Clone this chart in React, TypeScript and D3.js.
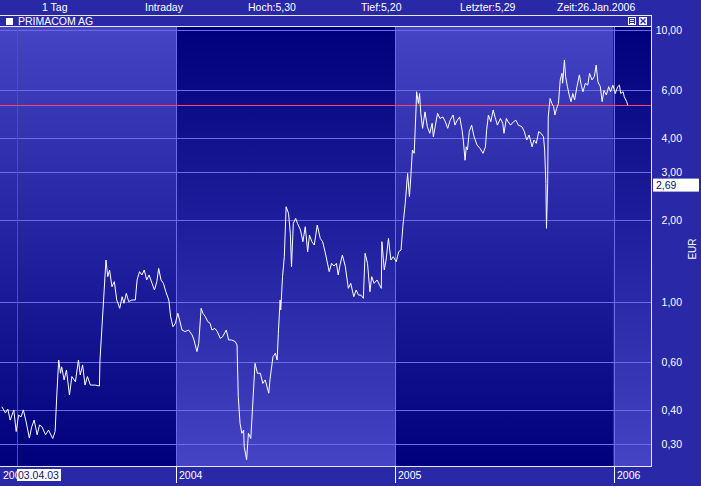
import React from "react";
import * as d3 from "d3";

const headerLabels = ["1 Tag", "Intraday", "Hoch:5,30", "Tief:5,20", "Letzter:5,29", "Zeit:26.Jan.2006"];
const titleText = "PRIMACOM AG";
const yTicks = [0.3, 0.4, 0.6, 1, 2, 3, 4, 6, 10];
const yTickLabels = ["0,30", "0,40", "0,60", "1,00", "2,00", "3,00", "4,00", "6,00", "10,00"];
const yearTicks = ["2004-01-01", "2005-01-01", "2006-01-01"];
const yearLabels = ["2004", "2005", "2006"];
const firstYearLabel = "2003";
const unitLabel = "EUR";
const startDate = "2003-03-15";
const crosshairDay = 27;
const crosshairLabel = "03.04.03";
const lastPrice = 5.29;
const cursorPrice = 2.69;
const cursorLabel = "2,69";

// days since startDate
const dayOffsets = [
  1, 7, 11, 15, 21, 25, 29, 33, 37, 42, 47, 51, 55, 60, 64, 68, 74, 79, 86, 90,
  93, 96, 99, 101, 105, 109, 114, 118, 124, 129, 132, 136, 140, 144, 149, 157, 164, 165, 168, 171,
  175, 178, 181, 185, 189, 193, 198, 202, 205, 209, 213, 218, 224, 227, 231, 235, 239, 243, 247, 252,
  256, 260, 263, 267, 271, 275, 280, 283, 287, 291, 295, 298, 302, 307, 313, 319, 322, 327, 330, 334,
  337, 341, 345, 349, 352, 357, 361, 366, 370, 376, 380, 385, 391, 394, 396, 399, 402, 405, 406, 410,
  413, 417, 420, 424, 428, 433, 437, 441, 447, 449, 454, 458, 461, 463, 466, 467, 470, 473, 476, 480,
  483, 485, 488, 492, 495, 500, 504, 508, 512, 515, 519, 523, 528, 533, 537, 541, 544, 548, 552, 556,
  560, 563, 566, 570, 575, 578, 580, 584, 589, 593, 597, 601, 605, 608, 612, 616, 619, 623, 628, 632,
  635, 636, 640, 643, 647, 651, 655, 660, 664, 668, 671, 675, 679, 682, 684, 687, 690, 693, 694, 697,
  699, 701, 704, 708, 712, 716, 720, 722, 725, 729, 733, 738, 742, 746, 750, 755, 758, 762, 766, 770,
  772, 775, 777, 779, 782, 786, 790, 795, 800, 805, 809, 811, 814, 818, 822, 825, 829, 834, 838, 840,
  844, 847, 851, 856, 860, 864, 870, 874, 878, 882, 887, 890, 894, 898, 902, 906, 908, 910, 911, 913,
  914, 917, 920, 923, 925, 928, 931, 934, 937, 938, 941, 943, 946, 949, 952, 955, 958, 962, 966, 969,
  972, 976, 980, 983, 987, 991, 994, 997, 1001, 1004, 1007, 1011, 1015, 1018, 1022, 1026, 1030, 1033, 1035, 1039,
  1041, 1045, 1047,
];

const prices = [
  0.412, 0.391, 0.404, 0.368, 0.401, 0.334, 0.384, 0.378, 0.401, 0.359, 0.316, 0.348, 0.368, 0.325, 0.353, 0.348, 0.325, 0.338, 0.315, 0.334,
  0.462, 0.612, 0.547, 0.578, 0.517, 0.562, 0.455, 0.532, 0.509, 0.612, 0.539, 0.587, 0.495, 0.532, 0.495, 0.495, 0.491, 0.612, 0.789, 1.017,
  1.427, 1.239, 1.311, 1.138, 1.188, 1.017, 0.948, 1.046, 0.989, 1.076, 1.003, 1.017, 1.017, 1.205, 1.293, 1.257, 1.311, 1.205, 1.257, 1.171,
  1.107, 1.188, 1.329, 1.205, 1.171, 1.091, 1.017, 0.883, 0.811, 0.835, 0.909, 0.859, 0.789, 0.778, 0.789, 0.756, 0.725, 0.657, 0.705, 0.948,
  0.909, 0.883, 0.847, 0.835, 0.789, 0.8, 0.778, 0.735, 0.746, 0.789, 0.725, 0.725, 0.715, 0.695, 0.45, 0.358, 0.329, 0.338, 0.294, 0.263,
  0.329, 0.315, 0.412, 0.595, 0.547, 0.547, 0.502, 0.517, 0.462, 0.517, 0.629, 0.648, 0.612, 0.767, 1.017, 0.935, 1.239, 1.467, 2.24, 2.12,
  1.788, 1.348, 1.946, 2.03, 1.946, 1.839, 1.666, 1.891, 1.53, 1.763, 1.666, 1.62, 1.918, 1.714, 1.666, 1.53, 1.427, 1.293, 1.387, 1.356,
  1.387, 1.257, 1.367, 1.489, 1.348, 1.205, 1.123, 1.171, 1.046, 1.107, 1.06, 1.06, 1.032, 1.51, 1.387, 1.091, 1.239, 1.171, 1.205, 1.155,
  1.123, 1.666, 1.311, 1.427, 1.714, 1.427, 1.467, 1.406, 1.53, 1.553, 1.891, 2.306, 2.97, 2.44, 2.81, 3.62, 3.52, 5.08, 5.93, 5.37,
  5.84, 4.94, 4.35, 5.0, 4.41, 4.17, 4.54, 4.05, 4.41, 4.94, 4.73, 4.79, 4.6, 4.35, 4.66, 4.87, 4.47, 4.66, 4.79, 4.28,
  3.94, 3.32, 3.72, 3.62, 4.23, 4.47, 4.05, 3.78, 3.67, 3.52, 3.72, 4.28, 4.87, 4.6, 5.08, 4.79, 4.47, 4.73, 4.54, 4.17,
  4.73, 4.6, 4.47, 4.6, 4.66, 4.47, 4.41, 4.23, 3.94, 4.11, 3.72, 3.94, 3.83, 4.23, 4.17, 4.05, 3.62, 2.73, 1.866, 2.73,
  4.79, 5.6, 5.37, 5.22, 4.87, 5.15, 5.37, 6.55, 6.93, 6.37, 7.76, 6.74, 6.19, 5.77, 5.45, 5.84, 5.53, 6.19, 6.84, 6.27,
  5.93, 6.37, 6.27, 6.93, 6.55, 6.74, 7.43, 6.45, 6.19, 5.45, 6.0, 5.77, 6.19, 5.93, 6.27, 5.84, 6.19, 6.27, 5.84, 5.93,
  5.68, 5.45, 5.29,
];

const W = 701;
const H = 486;
const FONT = "'Liberation Sans', Arial, sans-serif";

export default function App() {
  const parse = d3.utcParse("%Y-%m-%d");
  const start = parse(startDate) as Date;
  const years = yearTicks.map((s) => parse(s) as Date);

  const plotL = 0;
  const plotR = 652;
  const plotT = 27;
  const plotB = 467;

  const x = d3.scaleUtc().domain([years[0], years[2]]).range([176, 613.5]);
  const y = d3.scaleLog().domain([1, 10]).range([302, 30]);

  const data = dayOffsets.map((d, i) => ({ date: d3.utcDay.offset(start, d), value: prices[i] }));

  const line = d3
    .line<{ date: Date; value: number }>()
    .x((d) => x(d.date))
    .y((d) => y(d.value));

  const bandEdges = [plotL, ...years.map((d) => x(d)), plotR];
  const bands = d3.range(bandEdges.length - 1).map((i) => ({
    x0: bandEdges[i],
    x1: bandEdges[i + 1],
    grad: i % 2 === 0 ? "url(#gDown)" : "url(#gUp)",
  }));

  const crisp = (v: number) => Math.round(v) + 0.5;
  const headerX = [42, 145, 248, 361, 460, 557];
  const crossX = crisp(x(d3.utcDay.offset(start, crosshairDay)));
  const lastY = crisp(y(lastPrice));
  const cursorY = y(cursorPrice);

  return (
    <svg
      width={W}
      height={H}
      viewBox={`0 0 ${W} ${H}`}
      style={{ position: "absolute", left: 0, top: 0, display: "block" }}
      fontFamily={FONT}
    >
      <defs>
        <linearGradient id="gDown" x1="0" y1="0" x2="0" y2="1">
          <stop offset="0" stopColor="#4444c4" />
          <stop offset="1" stopColor="#00007c" />
        </linearGradient>
        <linearGradient id="gUp" x1="0" y1="0" x2="0" y2="1">
          <stop offset="0" stopColor="#00007c" />
          <stop offset="1" stopColor="#4444c4" />
        </linearGradient>
        <clipPath id="plotClip">
          <rect x={plotL} y={plotT} width={plotR - plotL} height={plotB - plotT} />
        </clipPath>
        <clipPath id="firstYearClip">
          <rect x={0} y={468} width={crossX} height={18} />
        </clipPath>
      </defs>

      <rect x={0} y={0} width={W} height={H} fill="#2929a8" />

      {/* header */}
      {headerLabels.map((t, i) => (
        <text key={t} x={headerX[i]} y={11} fill="#ffffff" fontSize={10.5}>
          {t}
        </text>
      ))}

      {/* title bar */}
      <line x1={0} x2={plotR} y1={15.5} y2={15.5} stroke="#e8e8ff" strokeWidth={1} />
      <rect x={6} y={18} width={7} height={7} fill="#ffffff" />
      <text x={18} y={25} fill="#ffffff" fontSize={10.5}>
        {titleText}
      </text>
      <rect x={628.5} y={17.5} width={7} height={7} fill="none" stroke="#ffffff" />
      <line x1={630} x2={634} y1={19.5} y2={19.5} stroke="#ffffff" />
      <line x1={630} x2={634} y1={21.5} y2={21.5} stroke="#ffffff" />
      <line x1={630} x2={634} y1={23.5} y2={23.5} stroke="#ffffff" />
      <rect x={639} y={17} width={8} height={8} fill="#ffffff" />
      <line x1={640.5} x2={645.5} y1={18.5} y2={23.5} stroke="#2a2aaa" strokeWidth={1.4} />
      <line x1={645.5} x2={640.5} y1={18.5} y2={23.5} stroke="#2a2aaa" strokeWidth={1.4} />

      {/* plot background bands */}
      {bands.map((b, i) => (
        <rect key={i} x={b.x0} y={plotT} width={b.x1 - b.x0} height={plotB - plotT} fill={b.grad} />
      ))}

      {/* grid */}
      {yTicks.map((t) => (
        <line key={t} x1={plotL} x2={plotR} y1={crisp(y(t))} y2={crisp(y(t))} stroke="#6c6ce8" strokeWidth={1} />
      ))}
      {years.map((d, i) => (
        <line key={i} x1={crisp(x(d))} x2={crisp(x(d))} y1={plotT} y2={plotB} stroke="#6c6ce8" strokeWidth={1} />
      ))}

      {/* crosshair and last-price line */}
      <line x1={crossX} x2={crossX} y1={plotT} y2={plotB} stroke="#d010a0" strokeWidth={1} shapeRendering="crispEdges" />
      <line x1={plotL} x2={plotR} y1={lastY} y2={lastY} stroke="#ff4466" strokeWidth={1} shapeRendering="crispEdges" />

      {/* price line */}
      <path d={line(data) ?? ""} fill="none" stroke="#ffffff" strokeWidth={1} clipPath="url(#plotClip)" strokeLinejoin="miter" />

      {/* borders */}
      <line x1={0} x2={plotR} y1={plotT - 0.5} y2={plotT - 0.5} stroke="#e8e8ff" strokeWidth={1} />
      <line x1={0} x2={plotR} y1={plotB - 0.5} y2={plotB - 0.5} stroke="#e8e8ff" strokeWidth={1} />
      <line x1={plotR - 0.5} x2={plotR - 0.5} y1={15} y2={plotB} stroke="#e8e8ff" strokeWidth={1} />

      {/* x axis */}
      <text x={3} y={479} fill="#ffffff" fontSize={10.5} clipPath="url(#firstYearClip)">
        {firstYearLabel}
      </text>
      {years.map((d, i) => (
        <g key={i}>
          <line x1={crisp(x(d))} x2={crisp(x(d))} y1={plotB} y2={483} stroke="#ffffff" strokeWidth={1} />
          <text x={crisp(x(d)) + 2.5} y={479} fill="#ffffff" fontSize={10.5}>
            {yearLabels[i]}
          </text>
        </g>
      ))}
      <rect x={crossX - 0.5} y={469} width={44} height={12} fill="#ffffff" />
      <text x={crossX + 0.5} y={479} fill="#10106a" fontSize={10.5}>
        {crosshairLabel}
      </text>

      {/* y axis */}
      {yTicks.map((t, i) => (
        <text key={t} x={682} y={y(t) + 3.8} fill="#ffffff" fontSize={10.5} textAnchor="end">
          {yTickLabels[i]}
        </text>
      ))}
      <rect x={653} y={cursorY - 6.5} width={46} height={13} fill="#ffffff" />
      <text x={656} y={cursorY + 3.8} fill="#10106a" fontSize={10.5}>
        {cursorLabel}
      </text>
      <text
        transform={`translate(696,249) rotate(-90)`}
        fill="#ffffff"
        fontSize={10}
        textAnchor="middle"
      >
        {unitLabel}
      </text>
    </svg>
  );
}
